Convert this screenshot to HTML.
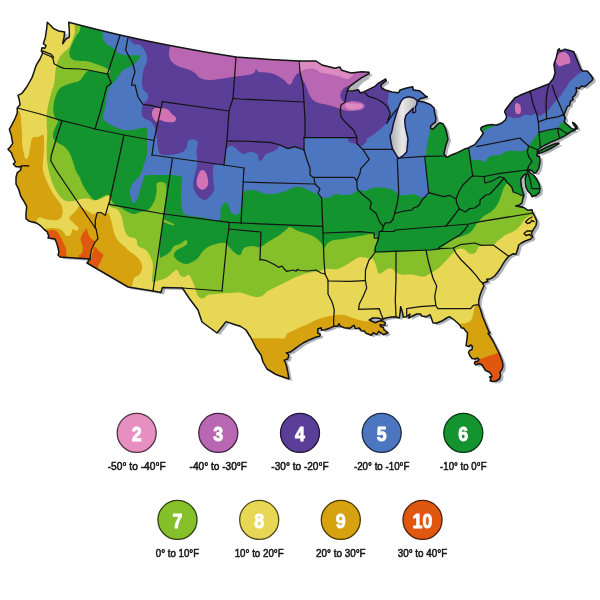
<!DOCTYPE html>
<html lang="en"><head><meta charset="utf-8"><title>Hardiness Zone Map</title>
<style>html,body{margin:0;padding:0;background:#fff}body{width:600px;height:600px;overflow:hidden}svg{display:block}.lb{font-family:"Liberation Sans",Arial,Helvetica,sans-serif;font-size:11.4px;fill:#151515;stroke:#151515;stroke-width:0.55px;stroke-linejoin:round;text-anchor:middle}.nm{font-family:"Liberation Sans",Arial,Helvetica,sans-serif;font-weight:bold;font-size:20.2px;fill:#fff;stroke:#fff;stroke-width:0.9px;stroke-linejoin:round;text-anchor:middle}</style></head><body>
<svg width="600" height="600" viewBox="0 0 600 600">
<defs>
<path id="land" d="M47.3 22.3 L53.3 28.3 L58.7 31 L64.7 32 L64 37.7 L62.7 43.7 L66 39 L69.3 37 L69.3 31 L68.7 22.3 L95 29 L120 35 L145 40.5 L170 45.6 L205 52 L236 57 L270 59.5 L299 61 L316 61 L322 65 L335 68.3 L339.7 67 L341.7 70.3 L351 73 L361.7 71.7 L369 72.3 L369 73.7 L361.7 77.7 L355 82.3 L349.7 86.3 L347 91 L352.3 91 L358.3 89.7 L360.3 93 L364.3 91.7 L368.3 89.7 L375 86.3 L377.7 83.7 L385.7 79 L386.3 81 L381 85 L381.7 88.3 L385.3 90 L392 92 L398.7 92.7 L400 90 L406.7 88 L412.7 86.7 L413.3 90 L419.3 90.7 L422.7 93.3 L425.3 96 L427.3 96.7 L420 98.7 L418 101.3 L424 102 L430.7 104.7 L434 108 L434.7 113.3 L436 118.7 L435.3 122.3 L432.5 124.2 L430.5 126.3 L430.8 128.6 L432.6 129.2 L434.6 127.6 L437.5 124.5 L440 122.7 L443.3 124 L446 130 L448 139.3 L446 144.7 L444.7 150 L444 154 L446.7 157.3 L450.7 155.3 L457.3 152.7 L464 149.3 L468 148 L474.7 144.7 L480 138 L483.3 133.3 L480.7 129.3 L481.3 127.3 L486.7 125.3 L492 124.4 L496 125.3 L501.3 123.3 L505.3 120 L506.7 116.7 L504.7 112 L505.3 110 L509.3 104.7 L514.7 98 L520 95.3 L530 91.3 L549.3 83.8 L553.3 78.5 L555.1 72.7 L553.9 64.5 L556.3 57.5 L558 49.9 L559.2 48.8 L560.3 51.1 L565 49.1 L569.7 50.5 L573.8 51.7 L576.1 57.5 L578.4 63.3 L580.8 69.2 L582.5 70.9 L587.2 70.9 L590.7 75 L593 78.5 L591.8 80.8 L588.3 83.8 L584.8 86.7 L581.3 86.1 L579.6 88.4 L576.1 87.8 L576.7 91.3 L574.9 95.4 L572.6 97.2 L573.2 99.5 L570.3 101.3 L569.7 105.3 L567.3 106.5 L565.8 110.2 L564.7 113.1 L564.1 115.4 L565.3 118.3 L564.1 121.8 L565.8 123.6 L568.8 125.9 L571.7 128.8 L575.2 129.2 L577.4 128.8 L576.8 126.3 L574.6 123.4 L572.6 122.4 L573.4 124.4 L575.2 126.8 L575.6 128.2 L575.2 130.2 L571.7 131.2 L568.2 133.5 L564.7 135.8 L561.2 137.6 L556.5 139.9 L551.8 141.7 L547.2 144 L542.5 146.3 L539 148.7 L537.3 151 L537.3 153.3 L536.7 155.7 L539.6 156.8 L540 162 L538.7 168.7 L536 172.7 L534 173.3 L532 170.7 L528.5 169.5 L529.5 172.5 L534 175.5 L536.7 179.3 L539.3 184.7 L540 188.7 L539.3 192.7 L536 195.3 L532 196.7 L530.7 194 L528 191.3 L526 187.3 L525.3 183.3 L525.3 178 L526.7 174 L524 174.7 L520.7 179.3 L521.3 186 L522.7 191.3 L524 195.3 L522.7 199.3 L522 202.7 L520 204.7 L516 206 L522.7 207.3 L524 207.7 L528 210.3 L532 209.7 L532.7 213 L534.7 216.3 L536.7 221 L536 225.7 L533.3 229.7 L531.3 233.7 L532.7 237 L530.7 239 L525.3 241 L521.3 243 L518.7 245 L518 248.3 L516.7 252.3 L516 254.3 L513.3 253.7 L508.7 256.3 L505.3 260.3 L502.7 264.3 L500 269 L497.3 272.7 L494.7 276 L490.7 278.7 L486.7 279.3 L488 281.3 L482.7 283.3 L484 286 L482 290 L480 295.3 L478.7 300.7 L478.7 304.7 L480.7 310 L482.7 316.7 L486 324.7 L488.7 331.3 L490 332.7 L488 333.3 L490 336 L493 341 L496 347 L499 353 L501 358 L502.5 362 L503 366 L502 369.5 L500 372 L500.5 375.5 L499.5 379 L496 381 L492 381.5 L490 380.5 L491 378.5 L489.5 377 L492 376.5 L491 374 L489 372 L485.5 370.5 L484 368 L481.5 364.5 L479 363.5 L476 365 L474.5 363.5 L475 361.5 L477.5 361.5 L479 359.5 L477.5 358 L475 359 L472 358.5 L470 356 L468.5 352.5 L469.5 350.5 L472 349.5 L472.5 346.5 L471 345 L468.5 346.5 L466 345.5 L467 339 L467.5 333 L466 331.3 L463.3 328 L461.3 328 L460 325.3 L457.3 322.7 L453.3 319.3 L449.3 316.7 L446.7 318 L441.3 321.3 L436 323.3 L432.9 322.7 L431.3 318 L430 314.7 L426.7 316.7 L421.3 316 L420.7 314 L416.7 314 L412.7 316 L408.7 318 L410 314 L407.3 316 L406 316.7 L403.3 317.3 L402.7 313.3 L400.7 306.7 L400 313.3 L399.3 318 L395.3 316.7 L390 317.3 L386 318 L384 318.7 L382 319.3 L378 318 L372.7 318 L369.3 320 L372 321.3 L375.3 322.7 L378.7 321.3 L382 320.7 L385.3 322.7 L384.7 325.3 L380 324.7 L380.7 326.7 L383.3 327.3 L384 330 L388 332.7 L383.3 334.7 L378.7 331.3 L376.7 334.7 L373.3 332.7 L371.3 335.3 L366 333.3 L364.7 331.3 L361.3 330.7 L359.3 328 L355.3 328.7 L354 325.3 L352.3 326.3 L349.7 328.3 L344.3 327.7 L340.3 326.3 L339 323.7 L337.7 326.3 L333.7 326.3 L331 327.7 L325 329.7 L321.7 330.3 L321 327.7 L317.7 329 L317.7 333 L320.3 334.3 L319.7 336.3 L316.3 337 L309.7 339.7 L303 343 L296.3 347.7 L291 351.7 L286.3 353 L289 355 L287.7 359 L284.3 360.3 L286.3 365 L287.7 371.7 L289 379 L283 377 L276 374.5 L267 369 L263 362 L261 355 L256 348 L251 338 L246 330 L240 326 L236 325 L226 321.6 L221 328 L217 333 L202 322 L198 310 L189 298 L182.4 288 L162.4 287.4 L161 292.4 L153 291 L128 287 L87 263 L90 259 L60 257 L58 255 L59 252 L57 244 L55 239 L53.3 238.7 L48 238 L48.7 236 L47.3 232 L44 229.3 L40 225.3 L36 222.7 L29.3 221.3 L26 218.7 L26 213.3 L26.7 206.7 L24.7 202.7 L20.7 196 L18.7 189.3 L16 184 L16 177.3 L17.3 172.7 L20.7 170 L21.3 166.7 L16 166.7 L13.3 164 L15.3 162 L13.3 158 L11.3 152.7 L8 149.3 L10 147.3 L12.7 143.3 L11.3 135.3 L9.3 129.3 L12 124.7 L15.3 118 L17.3 112.7 L17.3 108 L20 104.7 L19.3 100 L18 95.3 L22 93.3 L26.7 87 L32 77.7 L36 65.7 L40 59 L42.7 53 L41.3 51 L42 47.7 L44.7 48.3 L46 45.7 L43.3 43.7 L45.3 37.7 L46.7 28.3Z M538.2 152.2 L540.2 150.5 L548.3 146.5 L554.2 144 L558.8 143.1 L558.9 143.9 L555.3 145.8 L550.7 148.5 L546 150.9 L541.3 152.8 L537.8 153.5Z"/>
<clipPath id="cl"><use href="#land"/></clipPath>
<filter id="bl" x="-5%" y="-5%" width="110%" height="110%"><feGaussianBlur stdDeviation="0.7"/></filter>
<filter id="bl2" x="-20%" y="-20%" width="140%" height="140%"><feGaussianBlur stdDeviation="0.5"/></filter>
<linearGradient id="lk" x1="0" y1="0" x2="1" y2="0"><stop offset="0" stop-color="#a8a8a8"/><stop offset="0.45" stop-color="#e8e8e8"/><stop offset="1" stop-color="#b4b4b4"/></linearGradient>
</defs>
<rect width="600" height="600" fill="#fff"/>
<use href="#land" transform="translate(3.0 2.0)" fill="#aeb2b9" filter="url(#bl)"/>
<g clip-path="url(#cl)">
<rect width="600" height="400" fill="#e7d754"/>
<path d="M75 15C75 22.6 74.8 22.8 74.7 25.7C74.7 28.6 75 30.1 74.7 32.3C74.4 34.5 73.6 36.5 72.7 39C71.8 41.5 70.8 44.8 69.3 47C67.8 49.2 65.7 50.5 64 52.3C62.3 54.1 60.5 55.7 59.3 57.7C58.1 59.7 57.4 61.9 56.7 64.3C56 66.7 55.6 69.6 55.3 72.3C55 75 55 77.8 54.7 80.3C54.4 82.8 53.8 85.4 53.3 87C52.8 88.6 52.5 88.2 52 90C51.5 91.8 50.7 95.3 50 98C49.3 100.7 48.5 103.1 48 106C47.5 108.9 46.9 112.2 46.7 115.3C46.5 118.4 46.6 121.6 46.7 124.7C46.8 127.8 47.3 130.9 47.3 134C47.3 137.1 46.8 140 46.7 143.3C46.6 146.6 46.6 150.9 46.7 154C46.8 157.1 47 159.2 47.3 162C47.6 164.8 48 167.7 48.7 170.7C49.4 173.7 50.3 177.1 51.3 180C52.3 182.9 53.5 185.6 54.7 188C55.9 190.4 57.2 192.7 58.7 194.7C60.2 196.7 62.2 198.9 64 200C65.8 201.1 67.5 201.2 69.3 201.3C71.1 201.4 72.9 201.1 74.7 200.7C76.5 200.3 77.8 199.4 80 199C82.2 198.6 85.7 198.2 88 198.5C90.3 198.8 92 200.4 94 200.5C96 200.6 98 200 100 199.3C102 198.6 104.5 197.1 106 196.5C107.5 195.9 108.3 193.9 109 195.5C109.7 197.1 108.5 203.6 110 206C111.5 208.4 116 208 118 210C120 212 121 215 122 218C123 221 123 225 124 228C125 231 126 234.2 128 236C130 237.8 134.3 237.3 136 239C137.7 240.7 136.3 244.2 138 246C139.7 247.8 143.8 248 146 250C148.2 252 149.8 255.3 151 258C152.2 260.7 152.8 262.3 153 266C153.2 269.7 151.8 277.3 152 280C152.2 282.7 152.7 282 154 282C155.3 282 158 280.7 160 280C162 279.3 164 279.2 166 278C168 276.8 170.2 274.3 172 273C173.8 271.7 175.7 269.7 177 270C178.3 270.3 178.8 273.8 180 275C181.2 276.2 182.5 277 184 277C185.5 277 187.7 274.5 189 275C190.3 275.5 191 278 192 280C193 282 194.2 284.7 195 287C195.8 289.3 196.2 292.2 197 294C197.8 295.8 198.8 297.3 200 298C201.2 298.7 202.7 298.5 204 298C205.3 297.5 206 295.7 208 295C210 294.3 212.7 294.3 216 294C219.3 293.7 224 293.2 228 293C232 292.8 236.7 292.2 240 292.5C243.3 292.8 245.3 294.2 248 295C250.7 295.8 253.7 296.8 256 297C258.3 297.2 260 297 262 296C264 295 265.7 292.5 268 291C270.3 289.5 273 288.5 276 287C279 285.5 282.7 283.7 286 282C289.3 280.3 292.3 278.5 296 277C299.7 275.5 304 274 308 273C312 272 317.2 271.7 320 271C322.8 270.3 323.3 269.3 325 269C326.7 268.7 327.8 269 330 269C332.2 269 335.3 269.7 338 269C340.7 268.3 343.3 266.5 346 265C348.7 263.5 351.7 261.3 354 260C356.3 258.7 357.7 257.3 360 257C362.3 256.7 365.9 257.7 368 258C370.1 258.3 371.4 257.5 372.7 258.7C374 259.9 375.1 263 376 265.3C376.9 267.6 377.1 271.4 378 272.7C378.9 274 379.9 273.9 381.3 273.3C382.8 272.7 384.9 270.1 386.7 269.3C388.5 268.5 390.2 268 392 268.7C393.8 269.4 395.3 272.3 397.3 273.3C399.3 274.3 401.3 274.5 404 274.7C406.7 274.9 410.2 274.4 413.3 274.7C416.4 275 420.2 276.7 422.7 276.7C425.1 276.7 426 275.7 428 274.7C430 273.7 432.7 272 434.7 270.7C436.7 269.4 438 268.5 440 266.7C442 264.9 444.5 262.3 446.7 260C448.9 257.7 451.5 254.5 453.3 252.7C455.1 250.9 455.5 249.9 457.3 249.3C459.1 248.7 462.2 248.7 464 249.3C465.8 249.9 466.7 251.9 468 252.7C469.3 253.5 470.7 254.1 472 254C473.3 253.9 474.9 253.2 476 252C477.1 250.8 477.4 247.8 478.7 246.7C480 245.6 481.6 245.8 484 245.5C486.4 245.2 491.1 245.7 493.3 245C495.5 244.3 495.5 242.8 497.3 241.3C499.1 239.8 502 237.3 504 236C506 234.7 507.5 234.2 509.3 233.3C511.1 232.4 512.9 231.9 514.7 230.7C516.5 229.5 518.5 227.7 520 226C521.5 224.3 522.5 221.9 524 220.3C525.5 218.7 527.8 217.2 529.3 216.3C530.8 215.4 531.5 215.6 533.3 215C535.1 214.4 525.5 215.5 540 213C554.5 210.5 606.7 238.8 620 200C633.3 161.2 710.8 16.7 620 -20C529.2 -56.7 165.8 -25.8 75 -20C-15.8 -14.2 75 7.4 75 15Z" fill="#85bf2a"/>
<path d="M81 15C80.8 23.3 80.8 26.1 80 29.7C79.2 33.2 77.3 33.9 76 36.3C74.7 38.7 73.1 41.6 72 44.3C70.9 47 69.5 50.1 69.3 52.3C69.1 54.5 69.8 56.4 70.7 57.7C71.6 59 73.2 59.8 74.7 60.3C76.2 60.8 77.5 60.7 80 61C82.5 61.3 85.3 60.7 90 62C94.7 63.3 104.8 67.2 108 69C111.2 70.8 110.3 72.5 109 73C107.7 73.5 103.5 72.3 100 72C96.5 71.7 91.3 69.6 88 71C84.7 72.4 82.7 78.3 80 80.3C77.3 82.3 74.7 82.1 72 83C69.3 83.9 66.2 84.6 64 85.7C61.8 86.8 60 88.1 58.7 89.7C57.4 91.3 56.8 93.2 56 95.3C55.2 97.3 54.5 99.5 54 102C53.5 104.5 53.2 107.5 53.3 110C53.4 112.5 53.9 114.8 54.7 116.7C55.5 118.6 57.8 119.8 58 121.3C58.2 122.8 56.8 124.1 56 126C55.2 127.9 53.8 130.7 53.3 132.7C52.8 134.7 52.8 136.4 53.3 138C53.8 139.6 54.7 140.9 56 142C57.3 143.1 59.5 143.6 61.3 144.7C63.1 145.8 65.1 146.9 66.7 148.7C68.3 150.5 69.5 152.6 70.7 155.3C71.9 158 73.1 162.1 74 164.7C74.9 167.3 75 168.8 76 171C77 173.2 78.9 175.7 80 178C81.1 180.3 81.6 182.5 82.7 184.7C83.8 186.9 85.4 189.3 86.7 191.3C88 193.3 89.4 195.2 90.7 196.7C92 198.1 93.4 199.7 94.7 200C96 200.3 97.2 199.4 98.7 198.7C100.2 198 102.4 196.6 104 196C105.6 195.4 106.8 194 108.5 195.3C110.2 196.6 112.1 202.1 114 204C115.9 205.9 117.7 205.7 120 207C122.3 208.3 125.7 210.8 128 212C130.3 213.2 132 214 134 214C136 214 137.7 212.7 140 212C142.3 211.3 145.7 211.7 148 210C150.3 208.3 152.6 205 154 202C155.4 199 156.1 195.2 156.6 192C157.1 188.8 155.6 184.5 157 183C158.4 181.5 163.4 181.5 165 183C166.6 184.5 166.4 188.8 166.4 192C166.4 195.2 165.4 198.3 165 202C164.6 205.7 164.5 209.3 164 214C163.5 218.7 162.7 224.8 162 230C161.3 235.2 160.3 240.5 160 245C159.7 249.5 159.3 255.2 160 257C160.7 258.8 162.3 256.8 164 256C165.7 255.2 168.3 253.7 170 252C171.7 250.3 172.3 247.3 174 246C175.7 244.7 178 245 180 244C182 243 184.8 240 186 240C187.2 240 187.5 242.8 187 244C186.5 245.2 184.7 246 183 247C181.3 248 178.5 248.8 177 250C175.5 251.2 174.3 252.7 174 254C173.7 255.3 174 256.7 175 258C176 259.3 178.2 261 180 262C181.8 263 184 264 186 264C188 264 190 263 192 262C194 261 196.3 259.7 198 258C199.7 256.3 200.3 253.8 202 252C203.7 250.2 205.7 248.3 208 247C210.3 245.7 213.2 244.7 216 244C218.8 243.3 222.8 242.5 225 243C227.2 243.5 227.5 245.5 229 247C230.5 248.5 232.5 250.7 234 252C235.5 253.3 236.8 254.7 238 255C239.2 255.3 240 255.2 241 254C242 252.8 242.2 249.3 244 248C245.8 246.7 249.3 246.2 252 246C254.7 245.8 257.3 247.7 260 247C262.7 246.3 265 243.8 268 242C271 240.2 275 238 278 236C281 234 284 231.5 286 230C288 228.5 288 226.8 290 227C292 227.2 295 229.8 298 231C301 232.2 305 232.8 308 234C311 235.2 313.7 236.3 316 238C318.3 239.7 320.7 242.3 322 244C323.3 245.7 323 248.2 324 248C325 247.8 326.3 244.3 328 243C329.7 241.7 331.3 240.7 334 240C336.7 239.3 339.7 239.7 344 239C348.3 238.3 355.3 236.8 360 236C364.7 235.2 369.2 233.7 372 234C374.8 234.3 376.3 236.2 377 238C377.7 239.8 376.3 242.6 376 245C375.7 247.4 371.3 251.2 375.3 252.3C379.3 253.4 390.9 251.8 400 251.5C409.1 251.2 423.7 250.7 430 250.3C436.3 250 435.3 250.4 438 249.4C440.7 248.4 443.4 246.2 446 244.5C448.6 242.8 450.5 240.7 453.3 239.3C456.1 237.9 459.8 237.2 462.7 236C465.6 234.8 468.7 233.6 470.7 232C472.7 230.4 473.4 228.5 474.7 226.7C476 224.9 477.1 223.1 478.7 221.3C480.2 219.5 482 217.6 484 216C486 214.4 488.7 213.6 490.7 212C492.7 210.4 494.4 208.9 496 206.7C497.6 204.5 498.9 201.4 500 198.7C501.1 196 501.8 192.9 502.7 190.7C503.6 188.5 504.4 186.5 505.3 185.3C506.2 184.1 507.1 183.1 508 183.3C508.9 183.5 509.9 185.2 510.7 186.7C511.5 188.1 511.8 190.9 512.7 192C513.6 193.1 514.8 192.9 516 193.3C517.2 193.7 517.7 193.9 520 194.3C522.3 194.8 513.3 196.7 530 196C546.7 195.3 605 226 620 190C635 154 709.8 15 620 -20C530.2 -55 170.8 -25.8 81 -20C-8.8 -14.2 81.2 6.7 81 15Z" fill="#13942f"/>
<path d="M102 25C102 34 102.5 31.6 102.7 34C102.9 36.4 102.5 37.5 103.3 39.3C104.1 41.1 105.7 43.4 107.3 44.7C108.9 46 111.1 46.2 112.7 47.3C114.3 48.4 115.2 50.1 116.7 51.3C118.2 52.5 119.8 54 122 54.7C124.2 55.4 127.1 55.2 130 55.3C132.9 55.4 137.7 55.1 139.3 55.5C140.9 55.9 140.5 56.2 139.8 57.5C139.1 58.8 137.2 61.7 135.3 63.3C133.5 64.9 130.7 66.2 128.7 67.3C126.7 68.4 124.9 68.7 123.3 70C121.7 71.3 120.6 73.5 119.3 75.3C118 77.1 116.6 79.1 115.3 80.7C114 82.3 112.4 83.4 111.3 84.7C110.2 86 109.4 87.2 108.7 88.7C108 90.2 107.8 92 107.3 94C106.8 96 106.4 98 106 100.7C105.6 103.4 105.2 107.5 104.7 110C104.2 112.5 102.8 114 103 116C103.2 118 103.2 119.8 106 122C108.8 124.2 115.7 127.7 120 129C124.3 130.3 127.7 130.2 132 130C136.3 129.8 143.5 126.3 146 128C148.5 129.7 146.8 136 147 140C147.2 144 147.2 149 147 152C146.8 155 146.5 156 146 158C145.5 160 144.8 161.5 144 164C143.2 166.5 142.4 170.6 141.3 173C140.2 175.4 138.8 176.8 137.3 178.5C135.8 180.2 133.7 181.4 132.5 183.5C131.3 185.6 130.2 188.4 130 191C129.8 193.6 130.6 197.2 131.3 199.3C132 201.4 133 203.4 134 203.3C135 203.2 136.3 200.6 137.3 198.5C138.3 196.4 139.1 193.3 140 190.5C140.9 187.7 141.8 184 142.7 181.5C143.6 179 143.8 176.7 145.3 175.6C146.9 174.5 148.2 175.1 152 175C155.8 174.9 163.3 174.8 168 175C172.7 175.2 177.7 175.2 180 176C182.3 176.8 181.8 177.3 182 180C182.2 182.7 181 187.3 181 192C181 196.7 181.3 204.3 182 208C182.7 211.7 182 212.9 185 214.4C188 215.9 194.3 216.1 200 217C205.7 217.9 215.6 221.3 219 220C222.4 218.7 219.6 211.9 220.6 209C221.6 206.1 223.6 202.9 225 202.4C226.4 201.9 228 204.3 229 206C230 207.7 229.8 211 231 212.4C232.2 213.8 234.5 214.6 236 214.4C237.5 214.2 238.7 214.6 240 211C241.3 207.4 242 196.5 244 193C246 189.5 249.3 190.2 252 190C254.7 189.8 257.7 191.3 260 192C262.3 192.7 263.3 193.7 266 194C268.7 194.3 272.7 194.1 276 193.6C279.3 193.1 283.3 191.9 286 191C288.7 190.1 290 188.7 292 188C294 187.3 296 187 298 187C300 187 302 187.3 304 188C306 188.7 307.8 190 310 191C312.2 192 315.3 193 317 194C318.7 195 319.2 196.3 320 197C320.8 197.7 321.3 197.8 322 198C322.7 198.2 322.7 198.2 324 198C325.3 197.8 328 197.7 330 197C332 196.3 333.7 194.3 336 194C338.3 193.7 341.3 195 344 195C346.7 195 349.8 194.7 352 194C354.2 193.3 355.7 191.7 357 191C358.3 190.3 358.5 190 360 190C361.5 190 364 191.3 366 191C368 190.7 369.7 188.6 372 188C374.3 187.4 377 187.4 380 187.6C383 187.8 387.2 188.1 390 189C392.8 189.9 395.3 192 397 193C398.7 194 398.2 194.7 400 195C401.8 195.3 405.7 195.2 408 195C410.3 194.8 412 193.7 414 194C416 194.3 418 196.5 420 197C422 197.5 424.5 197.7 426 197C427.5 196.3 428.8 196.8 429 193C429.2 189.2 427.7 180 427 174C426.3 168 425.2 160.2 425 157C424.8 153.8 425.7 156.4 426 154.7C426.3 153 426.4 149.1 426.7 146.7C427 144.2 427.6 142.2 428 140C428.4 137.8 428.8 135.2 429.3 133.3C429.9 131.4 429.5 130.9 431.3 128.3C433.1 125.8 435.2 122.7 440 118C444.8 113.3 456.7 123 460 100C463.3 77 519.5 0 460 -20C400.5 -40 162.7 -27.5 103 -20C43.3 -12.5 102 16 102 25Z" fill="#4d76c0"/>
<path d="M468 146C469.4 149.3 468 147.8 468.7 150C469.4 152.2 470.1 157.6 472 159.3C473.9 161 478 159.6 480 160C482 160.4 482.7 162.3 484 162C485.3 161.7 486.4 159.1 488 158C489.6 156.9 491.3 155.8 493.3 155.3C495.3 154.8 497.8 155.7 500 155C502.2 154.3 504.5 152 506.7 151.3C508.9 150.6 511.1 150.7 513.3 150.7C515.5 150.7 518 151.4 520 151.3C522 151.2 523.8 150.9 525.3 150C526.8 149.1 527.4 147.8 528.7 146C530 144.2 531.8 141.4 533.3 139.3C534.8 137.2 536.8 134.7 537.8 133.5C538.8 132.3 537.2 132.9 539 132.3C540.8 131.7 545.2 130.8 548.3 130C551.4 129.2 555.8 128.7 557.7 127.7C559.7 126.7 559.2 125.1 560 124.2C560.8 123.3 561.5 122.7 562.3 122.4C563.1 122.1 562.6 123 564.7 122.4C566.8 121.8 565.8 121.1 575 119C584.2 116.9 612.5 133.2 620 110C627.5 86.8 646.7 1.7 620 -20C593.3 -41.7 486.7 -45 460 -20C433.3 5 458.7 102.3 460 130C461.3 157.7 466.6 142.7 468 146Z" fill="#4d76c0"/>
<path d="M129 30C129 39.7 128.2 35.7 129 38C129.8 40.3 132.2 42.8 134 44C135.8 45.2 138.2 43.8 140 45C141.8 46.2 143.8 48.5 145 51C146.2 53.5 147.2 56.8 147 60C146.8 63.2 144.4 66.7 143.6 70C142.8 73.3 142.1 76.8 142 80C141.9 83.2 142.1 86.7 143 89C143.9 91.3 146.8 92.3 147.6 94C148.4 95.7 148.4 97.3 147.6 99C146.8 100.7 144 102.2 143 104.4C142 106.6 141.5 109.7 141.6 112C141.7 114.3 142.2 116.5 143.6 118C145 119.5 148.3 119.7 150 121C151.7 122.3 153 124.2 154 126C155 127.8 155.5 129.7 156 132C156.5 134.3 156.5 136.7 157 140C157.5 143.3 157.8 149.5 159 152C160.2 154.5 161.2 154.7 164 155C166.8 155.3 172.7 154.7 176 154C179.3 153.3 182.2 152.2 184 151C185.8 149.8 186.1 148.4 186.7 147C187.3 145.6 186.9 143.7 187.5 142.5C188.1 141.3 188.8 140.3 190 139.8C191.2 139.3 193.4 139.1 194.7 139.5C196 139.9 197.7 140.9 198 142.5C198.3 144.1 196.6 146.4 196.5 149.3C196.4 152.2 197.2 157.2 197.3 160C197.4 162.8 197.4 163.7 197 166C196.6 168.3 195.7 170.7 195 174C194.3 177.3 192.7 182.5 193 186C193.3 189.5 195.2 192.7 197 195C198.8 197.3 202.2 199.5 204 200C205.8 200.5 206.3 199.7 208 198C209.7 196.3 213.2 193.7 214 190C214.8 186.3 213 180.2 213 176C213 171.8 212.2 167 214 165C215.8 163 222 166.5 224 164C226 161.5 224.7 153 226 150C227.3 147 229.7 145.7 232 146C234.3 146.3 238 150.7 240 152C242 153.3 242.3 154 244 154C245.7 154 247.8 152 250 152C252.2 152 255.5 152.7 257 154C258.5 155.3 258.2 159 259 160C259.8 161 260.8 161 262 160C263.2 159 264.3 155.3 266 154C267.7 152.7 270.2 152.8 272 152C273.8 151.2 275.7 150 277 149C278.3 148 278.2 146 280 146C281.8 146 285.5 148.8 288 149C290.5 149.2 292.8 147.1 295 147C297.2 146.9 299.6 148.3 301 148.7C302.4 149.1 303.2 150 303.6 149.6C304.1 149.2 303.7 147.4 303.7 146C303.7 144.6 303.6 142.3 303.6 141C303.6 139.7 303.2 138.9 303.6 138.4C304 137.9 304.6 138 306 137.9C307.4 137.8 305.5 137.9 312 137.9C318.5 137.9 338.9 137.5 345 138C351.1 138.5 347.1 140.2 348.3 141C349.5 141.8 350.9 142.6 352.3 143C353.8 143.4 355.4 143.8 357 143.7C358.6 143.6 359.8 143.3 361.7 142.3C363.6 141.3 366.3 139 368.3 137.7C370.3 136.4 371.7 135.8 373.7 134.3C375.7 132.9 378.3 130.8 380.3 129C382.3 127.2 384.1 125.9 385.7 123.7C387.3 121.5 389 118.2 389.7 115.7C390.4 113.2 390 111.2 389.7 109C389.4 106.8 387.9 104.3 387.7 102.3C387.5 100.3 388.1 98.8 388.3 97C388.5 95.2 388.9 94.5 389 91.7C389.1 88.9 389 98.6 389 80C389 61.4 432.3 -3.3 389 -20C345.7 -36.7 172.3 -28.3 129 -20C85.7 -11.7 129 20.3 129 30Z" fill="#5a3e97"/>
<path d="M500 108C500.8 120 503.7 110.7 505 112C506.3 113.3 506.5 115 508 116C509.5 117 512 117.8 514 118C516 118.2 518.2 118 520 117.5C521.8 117 523.2 115.1 525 114.8C526.8 114.5 529 115.6 530.8 115.4C532.5 115.2 534.1 113.6 535.5 113.7C536.9 113.8 537.8 115.9 539 116C540.2 116.1 541 115.3 542.5 114.3C544 113.3 546.5 111.9 548.3 110.2C550 108.5 551.5 106.1 553 104.3C554.5 102.5 555.8 100.9 557 99.5C558.2 98.1 559 97.8 560.3 96C561.6 94.2 563.4 91.3 565 89C566.6 86.7 568.2 84 569.7 82C571.2 80 572.8 78.7 574.3 77.3C575.8 75.9 577.6 74.8 579 73.8C580.4 72.8 580.7 72.6 582.5 71.3C584.3 70 587.1 71.2 590 66C592.9 60.8 615 44.3 600 40C585 35.7 516.7 28.7 500 40C483.3 51.3 499.2 96 500 108Z" fill="#5a3e97"/>
<path d="M170 40C135.8 41 170.2 43.5 170 46C169.8 48.5 168.7 52.3 169 55C169.3 57.7 170.2 60 172 62C173.8 64 177 65.7 180 67C183 68.3 187.3 68.8 190 70C192.7 71.2 194.3 72.7 196 74C197.7 75.3 198 77 200 78C202 79 204.7 79.8 208 80C211.3 80.2 216 79.5 220 79C224 78.5 228.7 77.5 232 77C235.3 76.5 237.3 76.3 240 76C242.7 75.7 245.7 75.5 248 75C250.3 74.5 252.7 74 254 73C255.3 72 255.2 69.2 256 69C256.8 68.8 256.7 71.3 259 72C261.3 72.7 266.8 72.3 270 73C273.2 73.7 275.7 74.8 278 76C280.3 77.2 282.3 78.7 284 80C285.7 81.3 286.8 83.3 288 84C289.2 84.7 290 85 291 84C292 83 293 79.7 294 78C295 76.3 296 74.8 297 74C298 73.2 299.2 72.3 300 73C300.8 73.7 301 75.8 302 78C303 80.2 304.7 83 306 86C307.3 89 308.3 93.3 310 96C311.7 98.7 313 100.5 316 102C319 103.5 324.3 104 328 105C331.7 106 335.3 107.2 338 108C340.7 108.8 341.8 109.5 344 110C346.2 110.5 348.5 111 351 111C353.5 111 356.9 110.8 359 110.3C361.1 109.8 362.8 109.2 363.7 108.3C364.6 107.4 364.9 106 364.3 105C363.7 104 362.3 103 360.3 102.3C358.3 101.6 354.7 101 352.3 101C349.9 101 347.5 102.5 345.7 102.3C343.9 102.1 342.6 100.9 341.7 99.7C340.8 98.5 340.1 96.8 340.3 95C340.5 93.2 341.8 90.5 343 89C344.2 87.5 346.2 87.1 347.7 86.3C349.2 85.5 347.4 86.7 352 84C356.6 81.3 371.2 77.3 375 70C378.8 62.7 409.2 45 375 40C340.8 35 204.2 39 170 40Z" fill="#b967b3"/>
<path d="M152 112C152.3 110.3 153.7 108.7 155 108C156.3 107.3 158 107.8 160 108C162 108.2 165 108 167 109C169 110 170.5 112.5 172 114C173.5 115.5 175.7 116.7 176 118C176.3 119.3 175.7 121.3 174 122C172.3 122.7 168.3 122.3 166 122C163.7 121.7 161.5 120 160 120C158.5 120 158.2 122.3 157 122C155.8 121.7 153.8 119.7 153 118C152.2 116.3 151.7 113.7 152 112Z" fill="#d273b4"/>
<path d="M556.8 56.3C557.6 54.9 558.9 53.5 560.3 52.8C561.7 52.1 563.6 51.9 565 52.3C566.4 52.7 567.6 54 568.5 55.2C569.4 56.5 570.1 58.4 570.3 59.8C570.5 61.1 570.6 62.5 569.7 63.3C568.8 64.1 566.6 64 565 64.5C563.4 65 561.6 66.3 560.3 66.3C559 66.3 558.2 65.4 557.4 64.5C556.6 63.6 555.8 62.4 555.7 61C555.6 59.6 556 57.7 556.8 56.3Z" fill="#d273b4"/>
<path d="M515 105C515.2 103.4 516.2 103 517 103C517.8 103 519.3 103.7 520 105C520.7 106.3 521.2 109.5 521 111C520.8 112.5 519.9 113.8 519 114C518.1 114.2 516.3 113.9 515.6 112.4C514.9 110.9 514.8 106.6 515 105Z" fill="#d273b4"/>
<path d="M202.4 170C203.6 170 205.1 171.3 206 173C206.9 174.7 207.8 177.8 208 180C208.2 182.2 208.4 184.3 207.5 186C206.6 187.7 204.1 190 202.4 190C200.7 190 198.2 187.7 197.3 186C196.4 184.3 196.5 182.2 196.8 180C197.1 177.8 198.1 174.7 199 173C199.9 171.3 201.2 170 202.4 170Z" fill="#d273b4"/>
<path d="M299 55C295.7 58.4 298.8 68.2 300 70.5C301.2 72.8 304 69.3 306 69C308 68.7 310 68.2 312 68.5C314 68.8 316.7 69.8 318 70.5C319.3 71.2 318.7 72 320 72.5C321.3 73 323.8 73.1 326 73.5C328.2 73.9 330.7 74.5 333 75C335.3 75.5 337.8 75.8 340 76.5C342.2 77.2 344.5 78.7 346 79C347.5 79.3 348 79 349 78.5C350 78 351.2 76.8 352 76C352.8 75.2 353.2 74.8 353.5 74C353.8 73.2 354.6 73.3 354 71C353.4 68.7 355.7 63.5 350 60C344.3 56.5 328.5 50.8 320 50C311.5 49.2 302.3 51.6 299 55Z" fill="#dd89c2"/>
<path d="M345.7 103.7C347.5 102.8 356.1 103.4 359 103.7C361.9 104 363 104.8 363 105.7C363 106.6 361.4 108.5 359 109C356.6 109.5 350.5 109.9 348.3 109C346.1 108.1 343.9 104.6 345.7 103.7Z" fill="#dd89c2"/>
<path d="M0 105C2.8 90.1 13.7 109.2 17 110.5C20.3 111.8 19.3 110.6 20 112.7C20.7 114.8 21 119.8 21.3 123.3C21.6 126.8 21.7 130.2 22 134C22.3 137.8 22.8 142.2 23.3 146C23.9 149.8 24.7 154.5 25.3 156.7C25.9 158.9 26.1 159.5 26.7 159.3C27.3 159.1 28.1 157.1 28.7 155.3C29.2 153.5 29.6 151.1 30 148.7C30.4 146.3 30.8 142.6 31.3 140.7C31.9 138.8 32.1 138 33.3 137.3C34.5 136.6 37.1 137.1 38.7 136.7C40.3 136.3 41.8 134.5 42.7 134.7C43.6 134.9 43.8 135.7 44 138C44.2 140.3 44.1 145.1 44 148.7C43.9 152.2 43.5 156.1 43.3 159.3C43.1 162.5 42.5 165.2 42.7 168C42.9 170.8 43.8 173.3 44.7 176C45.6 178.7 46.8 181.3 48 184C49.2 186.7 50.5 189.6 52 192C53.5 194.4 55.2 196.7 56.7 198.7C58.2 200.7 59.7 202 60.7 204C61.7 206 62.6 208.5 62.7 210.7C62.8 212.9 62.2 215.8 61.3 217.3C60.4 218.9 59.1 219.6 57.3 220C55.5 220.4 52.9 220.2 50.7 220C48.5 219.8 45.8 219.1 44 218.7C42.2 218.2 41.2 217.1 40 217.3C38.8 217.5 37.4 219.1 36.7 220C36 220.9 37.1 221.4 36 222.7C34.9 224 36 231.8 30 228C24 224.2 5 220.5 0 200C-5 179.5 -2.8 119.9 0 105Z" fill="#d6a210"/>
<path d="M44 229C44.9 227.1 43.8 228.9 45.3 228.7C46.8 228.5 50.8 227.9 53.3 228C55.8 228.1 58.2 228.5 60 229.3C61.8 230.1 62.9 231.6 64 232.7C65.1 233.8 65.6 235.7 66.7 236C67.8 236.3 69.7 235.8 70.7 234.7C71.7 233.6 71.7 230 72.7 229.3C73.7 228.6 75.7 230.9 76.7 230.7C77.7 230.5 79 229.1 78.7 228C78.4 226.9 76.3 225.6 74.7 224C73.1 222.4 70 220 69.3 218.7C68.6 217.4 69.8 217.1 70.7 216C71.6 214.9 73.6 213.2 74.7 212C75.8 210.8 76.6 209.9 77.3 209C78 208.1 78.1 206.5 79 206.3C79.9 206.1 81.2 207.2 82.7 208C84.2 208.8 86.3 210.3 88 211.3C89.7 212.3 91.2 213.7 92.7 214C94.2 214.3 94.9 213.2 97 213.3C99.1 213.4 103.5 214.8 105.3 214.7C107.1 214.6 107.1 211.8 108 212.5C108.9 213.2 109.9 216.3 110.7 218.7C111.5 221.1 112 224 112.7 226.7C113.4 229.4 113.7 232.3 114.7 234.7C115.7 237.1 116.9 239.2 118.7 241.3C120.5 243.4 123.8 245.9 125.3 247.3C126.8 248.8 125.9 248.2 128 250C130.1 251.8 135.7 255.3 138 258C140.3 260.7 141.7 263.3 142 266C142.3 268.7 141.3 272 140 274C138.7 276 135.3 276 134 278C132.7 280 133 283.7 132 286C131 288.3 135.8 293.8 128 292C120.2 290.2 97.2 279.5 85 275C72.8 270.5 62.5 270.8 55 265C47.5 259.2 41.8 246 40 240C38.2 234 43.1 230.9 44 229Z" fill="#d6a210"/>
<path d="M240 338.3C242.2 328 247.2 338.3 253 338.3C258.8 338.3 269.8 338.3 275 338.3C280.2 338.3 282.3 339.1 284.3 338.3C286.3 337.5 285.7 334.9 287 333.7C288.3 332.5 290.3 332 292.3 331C294.3 330 296.8 328.7 299 327.7C301.2 326.7 303.5 326 305.7 325C307.9 324 309.9 322.8 312.3 321.7C314.7 320.6 317.6 319.2 320.3 318.3C323 317.4 325.6 316.9 328.3 316.3C331 315.8 333.6 315.2 336.3 315C339 314.8 342.1 314.7 344.3 315C346.5 315.3 347.9 316.4 349.7 317C351.5 317.6 353.2 318.1 355.3 318.7C357.4 319.3 359.8 320.3 362 320.7C364.2 321.1 366.4 321.2 368.7 321.3C371 321.4 373.1 321.6 376 321.5C378.9 321.4 382.8 320.9 386 321C389.2 321.1 393.5 308.8 395 322C396.5 335.2 420.8 387 395 400C369.2 413 265.8 410.3 240 400C214.2 389.7 237.8 348.6 240 338.3Z" fill="#d6a210"/>
<path d="M455 330C456.1 317.3 459.6 325.1 461.3 324C463 322.9 463.9 323.8 465.3 323.3C466.8 322.9 468.8 322.4 470 321.3C471.2 320.2 472 318.6 472.7 316.7C473.4 314.8 473.6 311.8 474 310C474.4 308.2 474.5 307 474.9 306.2C475.3 305.4 475.8 305.4 476.5 305.2C477.2 305 476.8 305 479 304.9C481.2 304.8 483.2 304.7 490 304.7C496.8 304.7 515 288.8 520 304.7C525 320.6 530.8 384.1 520 400C509.2 415.9 465.8 411.7 455 400C444.2 388.3 453.9 342.7 455 330Z" fill="#d6a210"/>
<path d="M44 230C44.7 228.4 46.5 230.7 48 230.7C49.5 230.7 51.8 229.8 53.3 230C54.8 230.2 56.1 230.8 57.3 232C58.5 233.2 59.6 235.3 60.7 237.3C61.8 239.3 63.1 242 64 244C64.9 246 65.7 247.3 66 249.3C66.3 251.3 67 254.4 66 256C65 257.6 62.7 259.2 60 259C57.3 258.8 52.7 258.2 50 255C47.3 251.8 45 244.2 44 240C43 235.8 43.3 231.6 44 230Z" fill="#e0580f"/>
<path d="M86.7 228C87.2 228.4 87.2 231.5 88 233.3C88.8 235.1 90.2 237.4 91.3 238.7C92.4 240 94.6 240 94.7 241.3C94.8 242.6 92.8 244.7 92 246.7C91.2 248.7 90.2 251.1 90 253.3C89.8 255.5 91.7 258.9 90.7 260C89.7 261.1 86 260.7 84 260C82 259.3 79 257.2 78.7 256C78.4 254.8 81.3 254.2 82 252.7C82.7 251.1 82.9 248.8 82.7 246.7C82.5 244.6 80.8 242 80.7 240C80.6 238 81.3 236.2 82 234.7C82.7 233.1 83.9 231.8 84.7 230.7C85.5 229.6 86.2 227.6 86.7 228Z" fill="#e0580f"/>
<path d="M90.7 258.7C91.8 256.5 92.6 252.7 93.3 250.7C94 248.7 93.8 246.7 94.7 246.7C95.6 246.7 97.3 249.4 98.7 250.7C100.1 252 102.9 253.1 103.3 254.7C103.7 256.2 102.1 258.2 101.3 260C100.5 261.8 99.6 263.9 98.7 265.3C97.8 266.8 98 268.9 96 268.7C94 268.5 87.6 265.7 86.7 264C85.8 262.3 89.6 260.9 90.7 258.7Z" fill="#e0580f"/>
<path d="M470 362C471.5 356.9 476.8 360.2 479 359.5C481.2 358.8 481.2 358.7 483 358C484.8 357.3 487.8 356.2 490 355.5C492.2 354.8 494.5 354 496 353.5C497.5 353 496.7 353.1 499 352.5C501.3 351.9 508.2 343.8 510 350C511.8 356.2 516.7 383.3 510 390C503.3 396.7 476.7 394.7 470 390C463.3 385.3 468.5 367.1 470 362Z" fill="#e0580f"/>
<path d="M22 140C21.7 143.3 23.3 150.8 24 154C24.7 157.2 25.3 159.7 26 159C26.7 158.3 27.3 153.2 28 150C28.7 146.8 30.3 142.7 30 140C29.7 137.3 27.3 134 26 134C24.7 134 22.3 136.7 22 140Z" fill="#e7d754"/>
<path d="M480.3 130C480.6 128.9 481.4 127.4 482.5 126.5C483.6 125.6 485.3 125.2 487 124.8C488.7 124.3 491.3 123.6 492.5 123.8C493.7 124 494.6 125.3 494.3 126C494 126.7 491.8 127.4 490.5 127.9C489.2 128.5 487.7 128.5 486.5 129.3C485.3 130.1 484.4 131.9 483.5 132.5C482.6 133.1 481.5 133.4 481 133C480.5 132.6 480.1 131.1 480.3 130Z" fill="#13942f"/>
<path d="M164 219.6C164.8 219.5 166.9 220.9 168.5 221.6C170.1 222.3 172.6 223.2 173.4 223.9C174.2 224.6 174.4 225.6 173.6 225.6C172.8 225.6 170.1 224.6 168.5 224C166.9 223.4 164.8 222.7 164 222C163.2 221.3 163.2 219.7 164 219.6Z" fill="#85bf2a"/>
<path d="M348 140C349 139.5 356.8 140 360 140C363.2 140 366.5 139.2 367 140C367.5 140.8 364.2 144 363 145C361.8 146 361.5 146.3 360 146C358.5 145.7 356 144 354 143C352 142 347 140.5 348 140Z" fill="#5a3e97"/>
</g>
<path d="M348 92 L350 89 L354 85 L360 81.5 L365 79 L369.5 77.2 L369.5 78.7 L364 81.8 L360 85.5 L358 89 L353 91.5Z" fill="#b3b5b9" filter="url(#bl2)"/>
<path d="M372.7 318.3 L378 318.3 L382 319.5 L385 322.4 L382 320.9 L378.7 321.5 L375.3 322.7 L372 321.3 L369.6 320Z" fill="#b3b5b9" filter="url(#bl2)"/>
<path d="M525.8 175 L523.2 179.3 L523.6 186 L524.8 191.3 L526.5 195.5 L527.5 194 L526.3 190.8 L524.6 187 L524 183.3 L524.2 178.5Z" fill="#b3b5b9" filter="url(#bl2)"/>
<path d="M404 98 L408.7 96.7 L414 98 L417.3 100.7 L416.7 104.7 L415.3 106.7 L415.7 112 L412.7 112.7 L413.3 108 L410 111.3 L406 115.3 L404.7 120 L405.3 126.7 L406.7 133.3 L408 138.7 L407.3 146.7 L406.7 152 L402.7 156 L398.7 158.6 L396 154.7 L392.5 149 L391.3 144 L390 136 L392 130.7 L393.3 124 L395.3 117.3 L397.3 110.7 L399.3 105.3 L401.3 100.7Z" fill="url(#lk)" stroke="#15153a" stroke-width="1.5" stroke-linejoin="round"/>
<path d="M386.7 123.3 L390 118 L394 112.7 L397.3 108.7" fill="none" stroke="#1a1a40" stroke-width="1.6" stroke-linecap="round" stroke-linejoin="round"/>
<path d="M21.3 166 L25 165.6 L28.7 166" fill="none" stroke="#1a1205" stroke-width="1.4" stroke-linecap="round" stroke-linejoin="round"/>
<path d="M532 217 L528.5 219 L525.5 222 L527.5 223.5 L530.5 222.5 L531.5 220.5 L534 221.5" fill="none" stroke="#1a1205" stroke-width="1.4" stroke-linecap="round" stroke-linejoin="round"/>
<path d="M531.5 231 L527 231 L524 233.5 L526 235.5 L529.5 234.5 L531 236" fill="none" stroke="#1a1205" stroke-width="1.4" stroke-linecap="round" stroke-linejoin="round"/>
<path d="M522.5 207 L519 206.3 L516 206" fill="none" stroke="#1a1205" stroke-width="1.3" stroke-linecap="round" stroke-linejoin="round"/>
<g fill="none" stroke="#141414" stroke-width="1.25" stroke-linejoin="round" stroke-linecap="round">
<path d="M42.7 53 L50.7 56.3 L52.7 58.3 L53.3 59.7 L54 63.7 L58.7 66.3 L64 68.3 L80 69 L88 70 L107.5 74"/>
<path d="M42.6 50.8 L51.3 54.3 L53.8 57.3"/>
<path d="M120 35.5 L107.5 74"/>
<path d="M107.5 74 L111.3 83.3 L106.7 86.7 L100.7 110 L95 129"/>
<path d="M17.3 108 L40 114 L62 120.7 L80 125 L95 129 L124 135 L154 140.5"/>
<path d="M62 120.7 L57.3 135.3 L51.3 155.3 L50.7 160.7 L56 170 L95.3 228"/>
<path d="M124 135 L109 204"/>
<path d="M108.7 203.3 L105.3 215.3 L101.3 212.7 L97.3 212.7 L95.3 220 L95.3 228"/>
<path d="M95.3 228 L96 228.7 L98 238.7 L94.7 242.7 L91.3 250 L90 259"/>
<path d="M109 204.4 L164 214"/>
<path d="M128 38 L125.6 50 L133 64 L135 72 L132.4 80 L131.6 85 L135 85 L138 97 L143 104.4 L152 105.6 L161 108"/>
<path d="M162.4 101.6 L154 140.5 L152 155"/>
<path d="M162.4 101.6 L229 111"/>
<path d="M236 57 L233 98.4 L229 111 L227 140 L224 165"/>
<path d="M233 98.4 L240 99 L304 102"/>
<path d="M152 155 L224 165 L244 168"/>
<path d="M172.4 159 L164 214"/>
<path d="M164 214 L153 291"/>
<path d="M164 214 L229 222.4 L241 223"/>
<path d="M244 168 L241 223"/>
<path d="M227 141 L240 141 L270 142.4 L280 145 L288 148.6 L295 146.6 L304 150"/>
<path d="M243 182 L314 184"/>
<path d="M241 223 L322 226.4"/>
<path d="M229 222.4 L229 229 L261 232 L260 260"/>
<path d="M229 229 L227 240 L222 291"/>
<path d="M260 259.3 L266.7 260.7 L273.3 264 L278.7 267.3 L282 266 L284 268.7 L286.7 271.3 L293.3 270 L296 271.3 L297.3 269.3 L300 270.5 L308 271 L316 270 L321 273 L325 274"/>
<path d="M182.4 288 L222 291"/>
<path d="M299 61 L300 72 L303 86 L304 102 L305 120 L305 137.7"/>
<path d="M304 137.7 L357 137.7"/>
<path d="M304 137.7 L304 150 L307 160 L310 168 L310 175 L314 178 L315 184 L320 189 L318 193 L321.6 198"/>
<path d="M321.6 198 L323 233 L324 260 L325 274"/>
<path d="M314 177.4 L354 177.4 L357 181"/>
<path d="M347 91.7 L345.7 97 L345 102.3 L341 105 L340.3 110.3 L341 117 L344.3 121 L349.7 126.3 L353.7 130.3 L356.3 135.7 L357 141 L357.3 144"/>
<path d="M357.3 144 L363.3 150 L369.3 159.3 L360.7 168.7 L360 173.3 L356.7 180.7 L357.3 189.3 L362.7 194.7 L369.3 200 L371.3 202.7 L370 208.5 L376 213.3 L379.3 221.3 L383.3 226.7 L382.7 230 L379.3 231.8"/>
<path d="M379.3 231.8 L378.7 238 L377 243 L375.3 247 L375.3 252 L371.3 257.5 L369 260 L365.5 270 L365.3 280 L366.7 288 L363.3 296 L359.3 304 L358.7 309.3"/>
<path d="M365 93 L368.3 96.3 L375 98.3 L381.7 101.7 L387 106.3 L390.3 113 L388 120"/>
<path d="M363 149.3 L392.7 149.3"/>
<path d="M397.3 158.8 L398.7 193 L397.3 203 L394.7 213.5"/>
<path d="M383.3 226.5 L385.3 222.9 L390 222.7 L392.7 220 L394.7 213.5 L400 212 L406.7 210.7 L412 210 L413.3 208 L417.3 206.7 L420 204 L422 200 L424.7 197.3 L428.7 192.7 L436 194.7 L444 196.7 L449.3 195.3 L456 198.7 L456.7 203.3 L459.3 208.7"/>
<path d="M424.7 156.7 L428.7 192.7"/>
<path d="M401.3 158 L424 156.3 L445.3 156"/>
<path d="M468.7 148.7 L472.7 176"/>
<path d="M472.7 176 L470.7 177.3 L466.7 181.3 L462.7 185.3 L458.7 192 L456 198.7"/>
<path d="M472.7 176 L484 176.5 L500 173.3 L526.7 170"/>
<path d="M476.7 146.7 L500 142 L520 138 L523.3 141.3 L528.7 146"/>
<path d="M528.7 146 L527.3 151.3 L528.7 156.7 L532 161.3 L528.7 166 L527.3 170"/>
<path d="M528.7 146 L538 150"/>
<path d="M379.3 231.5 L394 231.3 L395.3 230 L420 228 L446 226 L469 224 L480 221.7 L532.7 213"/>
<path d="M459.3 208.7 L450.7 220 L446 226"/>
<path d="M459.3 208.7 L465.3 212 L469.3 208.7 L474.7 208 L480 204 L480 200 L486 195 L490 194 L500 183 L504 178"/>
<path d="M484 177 L485 183 L492 181 L500 176.7 L504 178 L508 183.3 L512 187.3 L513.3 192 L518.7 194 L522.7 196"/>
<path d="M526.7 170 L530 179.3 L532 188.7 L540 188.7"/>
<path d="M375.3 252 L400 251.2 L430 250 L440 248.7"/>
<path d="M468 224.7 L465.3 229.3 L460 234.7 L453.3 238.7 L446.7 242.7 L440 246.7 L438 249"/>
<path d="M440 248.7 L453.3 248 L460 244.7 L474.7 243 L481.3 245.3 L493.3 245 L508.7 256.3"/>
<path d="M453.3 248 L456 253.3 L461.3 260 L471.3 270 L476 275.3 L480 280.7 L482.7 283.3"/>
<path d="M396 251 L396 280 L395.3 300 L396 316.5"/>
<path d="M426 250 L428 260 L430.7 270 L432.9 278 L436.7 286 L434.7 296.7 L436 306 L438 308.7"/>
<path d="M406.7 316 L406.7 308.7 L420 306.7 L435.3 305.7"/>
<path d="M438 308.7 L470.7 308.7 L473.3 305.3 L478.7 304.7"/>
<path d="M323 233 L360 231.6 L374 233 L374.4 238 L378.6 238"/>
<path d="M328 281 L350 281.3 L364.7 280.7"/>
<path d="M325 274 L328 280 L328 294 L332 302 L333 305 L334.3 310.3 L333.7 318.3 L333.7 326.3"/>
<path d="M358.7 309.3 L379.3 308.7 L381.3 314.7 L383.3 318.7"/>
<path d="M530 91.3 L531.2 96 L533.2 104.3 L536.7 113.7 L538.4 121.8 L539 132.3 L540.2 146.3"/>
<path d="M549.3 83.8 L547.5 90.2 L546.3 98.3 L546 104.3 L546.6 118.3"/>
<path d="M552.2 85.5 L555.7 96 L560 105.5 L563.5 113.7"/>
<path d="M538.4 121.8 L546.6 118.9 L558.8 116.6 L563.5 114.3 L565.3 118.3"/>
<path d="M539 132.3 L548.3 130 L557.7 128.3 L560 128.8 L564.7 132.3 L568 133.5"/>
<path d="M557.7 128.3 L558.8 135.8 L560 138.2"/>
</g>
<use href="#land" fill="none" stroke="#141414" stroke-width="1.5" stroke-linejoin="round"/>
<circle cx="136.7" cy="432.9" r="19.5" fill="#e78fc0" stroke="#503243" stroke-width="1.3"/>
<text class="nm" x="136.7" y="440.8" transform="translate(136.7 0) scale(0.88 1) translate(-136.7 0)">2</text>
<text class="lb" x="136.7" y="470.3" textLength="58" lengthAdjust="spacingAndGlyphs">-50° to -40°F</text>
<circle cx="218.3" cy="432.9" r="19.5" fill="#b967b3" stroke="#40243e" stroke-width="1.3"/>
<text class="nm" x="218.3" y="440.8" transform="translate(218.3 0) scale(0.88 1) translate(-218.3 0)">3</text>
<text class="lb" x="218.3" y="470.3" textLength="57.5" lengthAdjust="spacingAndGlyphs">-40° to -30°F</text>
<circle cx="300" cy="432.9" r="19.5" fill="#5a3e97" stroke="#1f1534" stroke-width="1.3"/>
<text class="nm" x="300" y="440.8" transform="translate(300 0) scale(0.88 1) translate(-300 0)">4</text>
<text class="lb" x="300" y="470.3" textLength="57.3" lengthAdjust="spacingAndGlyphs">-30° to -20°F</text>
<circle cx="381.7" cy="432.9" r="19.5" fill="#4d76c0" stroke="#1a2943" stroke-width="1.3"/>
<text class="nm" x="381.7" y="440.8" transform="translate(381.7 0) scale(0.88 1) translate(-381.7 0)">5</text>
<text class="lb" x="381.7" y="470.3" textLength="55.5" lengthAdjust="spacingAndGlyphs">-20° to -10°F</text>
<circle cx="463.3" cy="432.9" r="19.5" fill="#13942f" stroke="#063310" stroke-width="1.3"/>
<text class="nm" x="463.3" y="440.8" transform="translate(463.3 0) scale(0.88 1) translate(-463.3 0)">6</text>
<text class="lb" x="463.3" y="470.3" textLength="46.5" lengthAdjust="spacingAndGlyphs">-10° to 0°F</text>
<circle cx="177.5" cy="519.9" r="19.5" fill="#85bf2a" stroke="#2e420e" stroke-width="1.3"/>
<text class="nm" x="177.5" y="527.8" transform="translate(177.5 0) scale(0.88 1) translate(-177.5 0)">7</text>
<text class="lb" x="177.5" y="557.3" textLength="43.3" lengthAdjust="spacingAndGlyphs">0° to 10°F</text>
<circle cx="259.2" cy="519.9" r="19.5" fill="#e7d754" stroke="#504b1d" stroke-width="1.3"/>
<text class="nm" x="259.2" y="527.8" transform="translate(259.2 0) scale(0.88 1) translate(-259.2 0)">8</text>
<text class="lb" x="259.2" y="557.3" textLength="49" lengthAdjust="spacingAndGlyphs">10° to 20°F</text>
<circle cx="340.8" cy="519.9" r="19.5" fill="#d6a210" stroke="#4a3805" stroke-width="1.3"/>
<text class="nm" x="340.8" y="527.8" transform="translate(340.8 0) scale(0.88 1) translate(-340.8 0)">9</text>
<text class="lb" x="340.8" y="557.3" textLength="49.7" lengthAdjust="spacingAndGlyphs">20° to 30°F</text>
<circle cx="422.5" cy="519.9" r="19.5" fill="#e0580f" stroke="#4e1e05" stroke-width="1.3"/>
<text class="nm" x="422.5" y="527.8" transform="translate(422.5 0) scale(0.88 1) translate(-422.5 0)">10</text>
<text class="lb" x="422.5" y="557.3" textLength="49.7" lengthAdjust="spacingAndGlyphs">30° to 40°F</text>
</svg></body></html>
